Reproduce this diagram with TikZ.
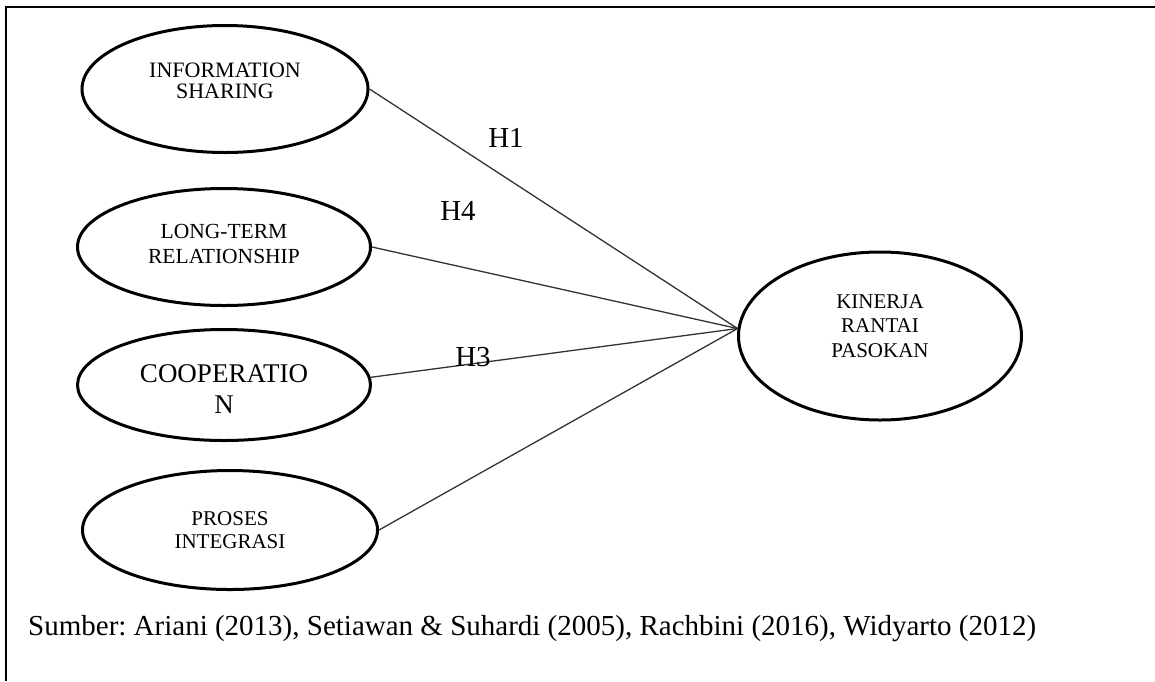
\documentclass[tikz,border=0pt]{standalone}
\usepackage{fontspec}
\setmainfont{Liberation Serif}
\usetikzlibrary{shapes.geometric}
\frenchspacing
\begin{document}
\begin{tikzpicture}[x=1pt,y=-1pt,
  ell/.style={draw=black, line width=3pt, ellipse, inner sep=0pt, align=center, text depth=0pt},
  conn/.style={draw=black!80, line width=1.3pt},
  hlabel/.style={inner sep=0pt, font=\fontsize{29}{29}\selectfont}]
\useasboundingbox (0,0) rectangle (1155,681);
\fill[white] (0,0) rectangle (1155,681);
\draw[line width=2.5pt] (6,681) -- (6,7) -- (1160,7);
\node[ell, minimum width=286, minimum height=127, text height=18pt, font=\fontsize{22}{21}\selectfont] (is) at (225,89) {INFORMATION\\SHARING};
\node[ell, minimum width=293, minimum height=117, text height=32pt, font=\fontsize{21.5}{25}\selectfont] (lt) at (224,247) {LONG-TERM\\RELATIONSHIP};
\node[ell, minimum width=293, minimum height=111, text height=56pt, font=\fontsize{27}{31}\selectfont] (co) at (224,385) {COOPERATIO\\N};
\node[ell, minimum width=295, minimum height=119, text height=36pt, font=\fontsize{21}{23}\selectfont] (pi) at (230,530) {PROSES\\INTEGRASI};
\node[ell, minimum width=283, minimum height=168, text height=42pt, font=\fontsize{21}{24.5}\selectfont] (kp) at (880,336) {KINERJA\\RANTAI\\PASOKAN};
\draw[conn] (is.east) -- (kp.177);
\draw[conn] (lt.east) -- (kp.177);
\draw[conn] (co.3) -- (kp.177);
\draw[conn] (pi.east) -- (kp.177);
\node[hlabel] (h1) at (506,138) {H1};
\node[hlabel] (h4) at (458,211) {H4};
\node[hlabel] (h3) at (473,357) {H3};
\node[anchor=base west, inner sep=0pt, font=\fontsize{29}{29}\selectfont] (src) at (28,635) {Sumber: Ariani (2013), Setiawan \& Suhardi (2005), Rachbini (2016), Widyarto (2012)};
\end{tikzpicture}
\end{document}
